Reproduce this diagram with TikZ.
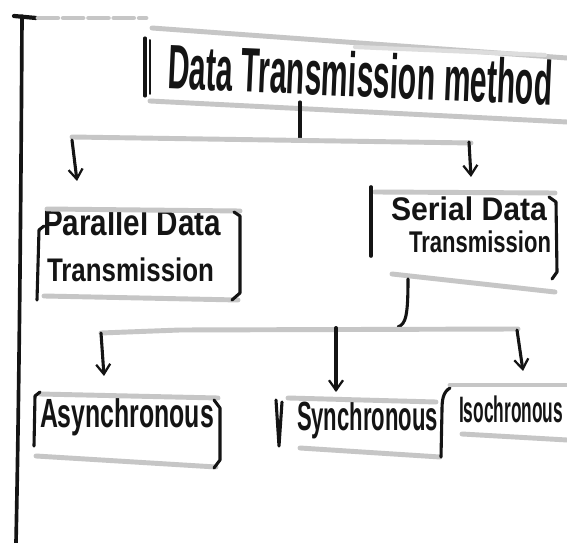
\documentclass[tikz,border=0pt]{standalone}
\usepackage{fontspec}
\setmainfont{Liberation Sans}
\usepackage{graphicx}
\usetikzlibrary{arrows.meta}
\definecolor{ink}{HTML}{141414}
\definecolor{pencil}{HTML}{C6C6C6}
\definecolor{faint}{HTML}{DDDDDD}
\newlength\px
\setlength\px{0.025cm}
% text squeezed into a box of given width and total height (in px units)
\newcommand\hw[3]{\resizebox*{#1\px}{#2\px}{#3}}
\begin{document}
\begin{tikzpicture}[x=0.025cm,y=-0.025cm,
  inkline/.style={draw=ink,line width=2.2pt,line cap=round,line join=round},
  edgeline/.style={draw=pencil,line width=3.5pt,line cap=round},
  faintline/.style={draw=faint,line width=3pt,line cap=round},
  label/.style={inner sep=0pt,outer sep=0pt,text=ink,font=\bfseries,anchor=north west},
  arr/.style={inkline,-{Straight Barb[length=7pt,width=10pt,line width=1.6pt]}}]
\useasboundingbox (0,0) rectangle (567,543);
\fill[white] (0,0) rectangle (567,543);

% margin rule on the left
\draw[inkline,line width=2.6pt] (22,16) .. controls (21,200) and (19,400) .. (16,543);
\draw[inkline,line width=3pt] (14,16) -- (36,18);
\draw[edgeline,dash pattern=on 14pt off 4pt] (38,18) -- (146,18);

% ---- title box ----
\node[label,anchor=west,rotate=-2.5] (title) at (168,66) {\hw{385}{46}{Data Transmission method}};
\draw[inkline] (145,38) -- (145,96);
\draw[inkline,line width=1.4pt] (150,40) -- (150,94);
\draw[edgeline] (152,28) -- (567,58);
\draw[faintline] (355,47) -- (545,55);
\draw[edgeline] (150,101) -- (567,122);

% ---- parallel box ----
\node[label] (par1) at (43,209) {\hw{178}{27}{Parallel Data}};
\node[label] (par2) at (47,258) {\hw{167}{24}{Transmission}};
\draw[edgeline] (47,209) -- (240,211);
\draw[edgeline] (44,296) -- (238,300);
\draw[inkline] (44,226) -- (39,230) -- (37,300);
\draw[inkline] (234,212) -- (240,216) -- (240,293) -- (232,300);

% ---- serial box ----
\node[label] (ser1) at (391,197) {\hw{156}{24}{Serial Data}};
\node[label] (ser2) at (409,231) {\hw{142}{22}{Transmission}};
\draw[edgeline] (375,192) -- (555,193);
\draw[edgeline] (392,274) -- (555,292);
\draw[inkline,line width=2.6pt] (371,187) -- (371,256);
\draw[inkline] (549,197) -- (556,202) -- (557,272) -- (552,279);

% ---- first fork ----
\coordinate (t0) at (300,102);
\coordinate (j1) at (300,141);
\coordinate (parIn) at (77,181);
\coordinate (serIn) at (471,177);
\draw[inkline] (t0) -- (j1);
\draw[edgeline] (72,137) -- (471,143);
\draw[arr] (72,140) -- (parIn);
\draw[arr] (469,142) -- (serIn);

% ---- second fork ----
\coordinate (s0) at (408,279);
\coordinate (j2) at (398,327);
\draw[inkline] (s0) .. controls (408,315) and (406,324) .. (j2);
\draw[edgeline] (101,333) -- (180,330) -- (518,329);
\coordinate (asyIn) at (104,376);
\coordinate (synIn) at (336,392);
\coordinate (isoIn) at (523,371);
\draw[arr] (101,333) -- (asyIn);
\draw[arr,line width=2.8pt] (336,328) -- (synIn);
\draw[arr] (517,330) -- (isoIn);

% ---- asynchronous ----
\node[label] (asy) at (40,398) {\hw{174}{38}{Asynchronous}};
\draw[edgeline] (40,394) -- (218,398);
\draw[edgeline] (36,456) -- (216,467);
\draw[inkline] (40,392) -- (35,396) -- (34,446);
\draw[inkline] (214,400) -- (220,408) -- (220,460) -- (214,468);

% ---- synchronous ----
\node[label] (syn) at (297,401) {\hw{141}{38}{Synchronous}};
\draw[edgeline] (288,398) -- (436,402);
\draw[edgeline] (300,448) -- (440,457);
\draw[inkline] (276,400) -- (279,446) -- (282,402);
\draw[inkline] (450,388) .. controls (443,392) and (442,400) .. (442,410) -- (441,457);

% ---- isochronous ----
\node[label] (iso) at (459,396) {\hw{104}{27}{Isochronous}};
\draw[edgeline] (450,385) -- (567,385);
\draw[edgeline] (462,434) -- (567,440);
\end{tikzpicture}
\end{document}
